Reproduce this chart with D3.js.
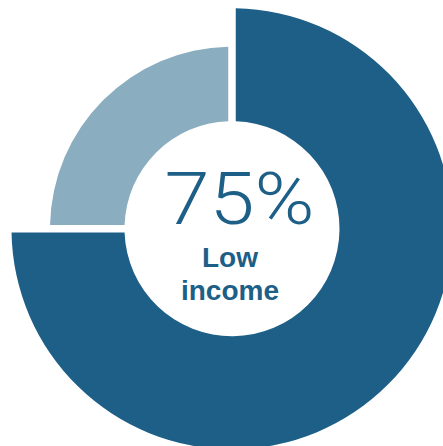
<!DOCTYPE html>
<html>
<head>
<meta charset="utf-8">
<script src="https://cdn.jsdelivr.net/npm/d3@7"></script>
<style>
  html, body { margin: 0; padding: 0; background: #fff; overflow: hidden; }
  svg { display: block; }
</style>
</head>
<body>
<svg id="chart" width="443" height="446"></svg>
<script>
// Data
const categories = ["Low income", "Other"];
const values = [75, 25];
const colors = ["#1d5f87", "#8aadc0"];
const centerValue = "75%";
const centerLabel = ["Low", "income"];

const W = 443, H = 446;
const cx = 232, cy = 228.7;
const innerR = 107.5;
const outerR = [220.5, 182];
const gap = 7.5;
const padR = 100;

const svg = d3.select("#chart");
const g = svg.append("g").attr("transform", `translate(${cx},${cy})`);

const pie = d3.pie().sort(null).value(d => d.value).startAngle(0).endAngle(2 * Math.PI);
const data = pie(categories.map((c, i) => ({ cat: c, value: values[i], i })));

const padAngle = 2 * Math.asin((gap / 2) / padR);

g.selectAll("path.slice")
  .data(data)
  .join("path")
  .attr("class", "slice")
  .attr("fill", d => colors[d.data.i])
  .attr("d", d => d3.arc()
      .innerRadius(innerR)
      .outerRadius(outerR[d.data.i])
      .padRadius(padR)
      .padAngle(padAngle)(d));

const tg = svg.append("g");
const big = tg.append("text")
  .attr("x", 0).attr("y", 0)
  .attr("text-anchor", "middle")
  .attr("font-family", "Roboto, 'Liberation Sans', sans-serif")
  .attr("font-weight", 300)
  .attr("font-size", 73)
  .attr("fill", colors[0])
  .text(centerValue);
// stretch horizontally so the glyphs span the same width as the reference
const bw = big.node().getBBox().width || 132;
const sx = 150 / bw;
big.attr("transform", `translate(239.5,224) scale(${sx},1)`);

tg.selectAll("text.lbl")
  .data(centerLabel)
  .join("text")
  .attr("class", "lbl")
  .attr("x", 230)
  .attr("y", (d, i) => 266.7 + i * 32.8)
  .attr("text-anchor", "middle")
  .attr("font-family", "'Liberation Sans', Arial, sans-serif")
  .attr("font-weight", "bold")
  .attr("font-size", 28)
  .attr("fill", colors[0])
  .text(d => d);
</script>
</body>
</html>
